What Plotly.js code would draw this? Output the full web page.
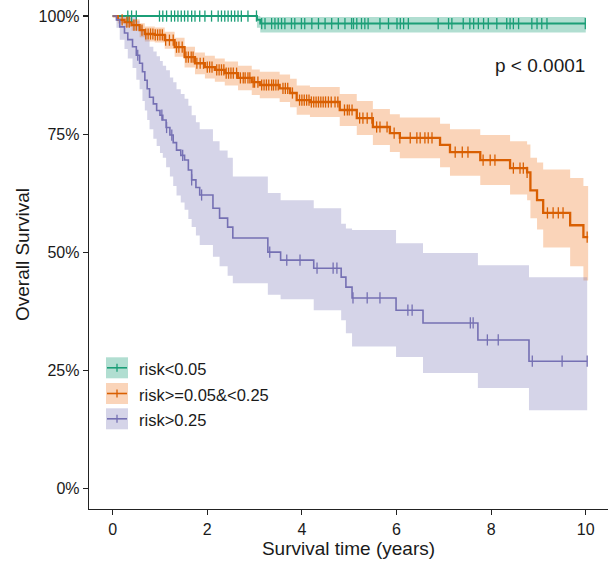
<!DOCTYPE html>
<html>
<head>
<meta charset="utf-8">
<script src="https://cdn.plot.ly/plotly-3.0.1.min.js"></script>
<style>html,body{margin:0;padding:0;background:#fff;}#chart{width:608px;height:563px;}</style>
</head>
<body>
<div id="chart"></div>
<script>
// ---------------- DATA ----------------
const groupNames = ["risk<0.05", "risk>=0.05&<0.25", "risk>0.25"];

// risk<0.05 (green)
const gTime  = [0, 3.05, 3.12];
const gSurv  = [1, 0.992, 0.984];
const gUpper = [1, 1, 0.998];
const gLower = [1, 0.975, 0.965];
const gEnd = 10.0;
const gCensor = [0.32,0.40,0.50,0.99,1.06,1.14,1.24,1.31,1.38,1.45,1.52,1.59,1.67,1.74,1.84,1.95,2.09,2.23,2.30,2.37,2.44,2.51,2.58,2.65,2.72,2.86,3.04,3.15,3.22,3.36,3.43,3.50,3.57,3.64,3.78,3.85,3.99,4.06,4.21,4.35,4.49,4.63,4.77,4.91,5.05,5.09,5.16,5.26,5.33,5.40,5.65,5.83,6.01,6.08,6.15,6.25,6.88,7.10,7.17,7.41,7.55,7.63,7.73,7.84,7.94,8.12,8.33,8.40,8.47,8.58,8.86,8.97,9.07,9.18,9.99];

// risk>=0.05&<0.25 (orange)
const oTime  = [0,0.11,0.25,0.40,0.57,0.68,0.89,1.10,1.31,1.52,1.74,1.95,2.16,2.37,2.65,2.94,3.11,3.53,3.75,3.89,4.17,4.80,5.16,5.50,5.86,6.07,6.92,7.13,7.77,8.40,8.76,8.83,8.97,9.10,9.67,9.95];
const oSurv  = [1,0.992,0.987,0.981,0.970,0.962,0.960,0.949,0.934,0.913,0.900,0.892,0.886,0.879,0.869,0.860,0.854,0.847,0.837,0.822,0.818,0.801,0.784,0.765,0.752,0.742,0.727,0.712,0.695,0.678,0.669,0.631,0.610,0.583,0.557,0.532];
const oUpper = [1,1,0.997,0.993,0.985,0.978,0.976,0.967,0.954,0.935,0.923,0.916,0.910,0.904,0.895,0.887,0.882,0.876,0.867,0.853,0.850,0.835,0.820,0.803,0.792,0.785,0.772,0.760,0.748,0.735,0.728,0.700,0.690,0.675,0.657,0.640];
const oLower = [1,0.984,0.977,0.969,0.955,0.946,0.944,0.931,0.914,0.891,0.877,0.868,0.861,0.853,0.843,0.833,0.826,0.818,0.807,0.791,0.786,0.767,0.748,0.727,0.712,0.699,0.680,0.662,0.642,0.622,0.610,0.572,0.548,0.510,0.470,0.440];
const oEnd = 10.05;
const oCensor = [0.20,0.30,0.35,0.45,0.50,0.62,0.70,0.75,0.80,0.85,0.90,0.95,1.00,1.05,1.12,1.20,1.28,1.35,1.40,1.47,1.55,1.60,1.66,1.70,1.78,1.85,1.92,2.00,2.05,2.10,2.20,2.25,2.30,2.35,2.40,2.45,2.50,2.55,2.62,2.70,2.76,2.80,2.86,2.90,2.97,3.00,3.07,3.15,3.20,3.25,3.30,3.36,3.40,3.45,3.50,3.60,3.65,3.70,3.80,3.95,4.00,4.05,4.10,4.15,4.20,4.25,4.30,4.35,4.40,4.45,4.50,4.56,4.62,4.70,4.76,4.90,4.96,5.00,5.06,5.22,5.29,5.38,5.48,5.58,5.65,5.80,5.95,6.07,6.29,6.43,6.50,6.60,6.67,6.75,7.24,7.39,7.51,7.83,7.98,8.08,8.47,8.61,8.68,8.76,9.19,9.31,9.42,9.52,10.03];

// risk>0.25 (purple)
const pTime  = [0,0.08,0.15,0.25,0.32,0.42,0.50,0.57,0.63,0.68,0.73,0.78,0.86,0.93,1.00,1.06,1.13,1.21,1.28,1.35,1.44,1.52,1.60,1.67,1.76,1.84,2.12,2.26,2.43,2.54,3.28,3.55,4.25,4.83,4.93,5.06,5.99,6.56,7.72,8.80];
const pSurv  = [1,0.992,0.977,0.964,0.950,0.935,0.917,0.900,0.882,0.864,0.846,0.828,0.814,0.800,0.790,0.780,0.764,0.748,0.732,0.716,0.705,0.695,0.674,0.653,0.637,0.621,0.593,0.572,0.553,0.530,0.500,0.483,0.466,0.447,0.426,0.403,0.377,0.350,0.314,0.269];
const pUpper = [1,1,1,1,1,1,0.99,0.98,0.97,0.96,0.95,0.935,0.925,0.915,0.905,0.895,0.885,0.87,0.86,0.845,0.835,0.825,0.81,0.79,0.775,0.76,0.735,0.715,0.70,0.66,0.625,0.61,0.593,0.56,0.55,0.547,0.519,0.498,0.472,0.447];
const pLower = [1,0.975,0.95,0.93,0.91,0.89,0.865,0.845,0.82,0.80,0.78,0.76,0.74,0.725,0.71,0.70,0.68,0.66,0.64,0.62,0.605,0.59,0.57,0.553,0.535,0.515,0.49,0.47,0.45,0.434,0.41,0.40,0.377,0.356,0.328,0.30,0.278,0.244,0.212,0.165];
const pEnd = 10.03;
const pCensor = [0.53,1.04,1.14,1.25,1.48,1.67,1.88,3.32,3.68,3.96,4.32,4.66,4.74,5.08,5.38,5.65,6.24,6.33,7.56,7.62,7.92,8.15,8.87,9.50,10.03];

const xTickVals = [0, 2, 4, 6, 8, 10];
const yTickVals = [0, 0.25, 0.5, 0.75, 1];
const pValueText = "p < 0.0001";

// ---------------- STYLE ----------------
const colors = ["#1B9E77", "#D95F02", "#7570B3"];
const fills  = ["rgba(27,158,119,0.34)", "rgba(240,130,50,0.34)", "rgba(117,112,179,0.30)"];
const lineW  = [2.0, 2.3, 1.6];
const FONT = "Liberation Sans, Arial, sans-serif";
const W = 608, H = 563, ML = 89, MR = 0, MT = 0, MB = 54;
const PW = W - ML - MR, PH = H - MT - MB;
const px2x = p => (p - ML) / PW;
const px2y = p => 1 - (p - MT) / PH;

function survAt(times, surv, t) {
  let s = surv[0];
  for (let i = 0; i < times.length; i++) if (times[i] <= t) s = surv[i];
  return s;
}
function ext(arr, endVal) { return arr.concat([endVal]); }

const groups = [
  {t: gTime, s: gSurv, u: gUpper, l: gLower, end: gEnd, c: gCensor},
  {t: oTime, s: oSurv, u: oUpper, l: oLower, end: oEnd, c: oCensor},
  {t: pTime, s: pSurv, u: pUpper, l: pLower, end: pEnd, c: pCensor}
];

const traces = [];
// bands
groups.forEach((g, i) => {
  const xs = ext(g.t, g.end);
  traces.push({x: xs, y: ext(g.u, g.u[g.u.length-1]), type: "scatter", mode: "lines",
    line: {width: 0, shape: "hv"}, hoverinfo: "skip", showlegend: false});
  traces.push({x: xs, y: ext(g.l, g.l[g.l.length-1]), type: "scatter", mode: "lines",
    line: {width: 0, shape: "hv"}, fill: "tonexty", fillcolor: fills[i], hoverinfo: "skip", showlegend: false});
});
// lines
groups.forEach((g, i) => {
  traces.push({x: ext(g.t, g.end), y: ext(g.s, g.s[g.s.length-1]), type: "scatter", mode: "lines",
    line: {color: colors[i], width: lineW[i], shape: "hv"}, name: groupNames[i], showlegend: false});
});
// censor marks
groups.forEach((g, i) => {
  traces.push({x: g.c, y: g.c.map(t => survAt(g.t, g.s, t)), type: "scatter", mode: "markers",
    marker: {symbol: "line-ns-open", size: 8, color: colors[i], line: {color: colors[i], width: 1.3}},
    hoverinfo: "skip", showlegend: false});
});

// manual legend
const shapes = [];
const annotations = [];
const legY = [367.8, 393.5, 418.8];
groupNames.forEach((name, i) => {
  const cy = legY[i];
  shapes.push({type: "rect", xref: "paper", yref: "paper", x0: px2x(106), x1: px2x(128),
    y0: px2y(cy + 10.5), y1: px2y(cy - 10.5), fillcolor: fills[i], line: {width: 0}});
  shapes.push({type: "line", xref: "paper", yref: "paper", x0: px2x(107), x1: px2x(127),
    y0: px2y(cy), y1: px2y(cy), line: {color: colors[i], width: 1.6}});
  shapes.push({type: "line", xref: "paper", yref: "paper", x0: px2x(117), x1: px2x(117),
    y0: px2y(cy - 4), y1: px2y(cy + 4), line: {color: colors[i], width: 1.3}});
  annotations.push({xref: "paper", yref: "paper", x: px2x(137), y: px2y(cy + 1), xanchor: "left", yanchor: "middle",
    text: name, showarrow: false, font: {family: FONT, size: 16.5, color: "#1a1a1a"}});
});
annotations.push({xref: "paper", yref: "paper", x: px2x(587), y: px2y(65), xanchor: "right", yanchor: "middle",
  text: pValueText, showarrow: false, font: {family: FONT, size: 19, color: "#1a1a1a"}});

const layout = {
  width: W, height: H,
  margin: {l: ML, r: MR, t: MT, b: MB, pad: 0},
  paper_bgcolor: "#ffffff", plot_bgcolor: "#ffffff",
  showlegend: false,
  font: {family: FONT, color: "#1a1a1a"},
  xaxis: {
    range: [-0.5, 10.47], tickvals: xTickVals, ticktext: xTickVals.map(String),
    showgrid: false, zeroline: false, showline: true, linecolor: "#222", linewidth: 1.3,
    ticks: "outside", ticklen: 5, tickwidth: 1.1, tickcolor: "#222",
    tickfont: {family: FONT, size: 16, color: "#1a1a1a"},
    title: {text: "Survival time (years)", font: {family: FONT, size: 19, color: "#1a1a1a"}, standoff: 5}
  },
  yaxis: {
    range: [-0.044, 1.034], tickvals: yTickVals, tickformat: ".0%",
    showgrid: false, zeroline: false, showline: true, linecolor: "#222", linewidth: 1.3,
    ticks: "outside", ticklen: 5, tickwidth: 1.1, tickcolor: "#222",
    tickfont: {family: FONT, size: 16, color: "#1a1a1a"},
    title: {text: "Overall Survival", font: {family: FONT, size: 19, color: "#1a1a1a"}, standoff: 4}
  },
  shapes: shapes,
  annotations: annotations
};

Plotly.newPlot("chart", traces, layout, {staticPlot: true, displayModeBar: false});
</script>
</body>
</html>
